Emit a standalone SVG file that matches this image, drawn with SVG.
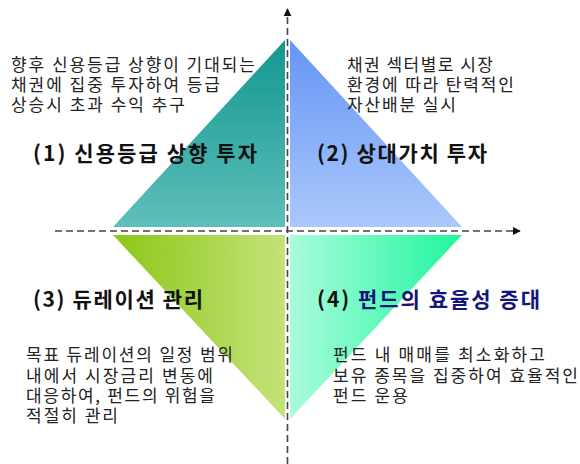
<svg xmlns="http://www.w3.org/2000/svg" width="580" height="464" viewBox="0 0 580 464">
<style>
.desc{font-family:"Noto Sans CJK KR","Liberation Sans",sans-serif;font-size:17px;fill:#222}
.title{font-family:"Noto Sans CJK KR","Liberation Sans",sans-serif;font-size:21px;font-weight:bold;fill:#111}
.axis{stroke:#444;stroke-width:1.6;stroke-dasharray:7 4;fill:none}
</style>
<defs>
<linearGradient id="g1" x1="0" y1="0" x2="0" y2="1"><stop offset="0" stop-color="#12978f"/><stop offset="1" stop-color="#5fbfbb"/></linearGradient>
<linearGradient id="g2" x1="0" y1="0" x2="0" y2="1"><stop offset="0" stop-color="#6595f6"/><stop offset="1" stop-color="#abc8fb"/></linearGradient>
<linearGradient id="g3" x1="0" y1="0" x2="1" y2="0"><stop offset="0" stop-color="#8cc716"/><stop offset="1" stop-color="#c4e27a"/></linearGradient>
<linearGradient id="g4" x1="0" y1="0" x2="1" y2="0"><stop offset="0" stop-color="#aafcdc"/><stop offset="1" stop-color="#1ef69e"/></linearGradient>
<marker id="arr" viewBox="0 0 10 10" refX="9" refY="5" markerWidth="8" markerHeight="8" markerUnits="userSpaceOnUse" orient="auto"><path d="M0,0 L10,5 L0,10 z" fill="#111"/></marker>
</defs>
<g id="q1"><polygon points="285,40 113,227 285,227" fill="url(#g1)"/></g>
<g id="q2"><polygon points="290,40 290,227 462,227" fill="url(#g2)"/></g>
<g id="q3"><polygon points="113,235 285,235 285,419" fill="url(#g3)"/></g>
<g id="q4"><polygon points="290,235 462,235 290,419" fill="url(#g4)"/></g>
<g id="connectors">
<line class="axis" x1="287.5" y1="464" x2="287.5" y2="9" marker-end="url(#arr)"/>
<line class="axis" x1="55" y1="231" x2="520" y2="231" marker-end="url(#arr)"/>
</g>
<g id="t1">
<text class="desc"><tspan x="11" y="71" textLength="244" lengthAdjust="spacing">향후 신용등급 상향이 기대되는</tspan><tspan x="11" y="91" textLength="209" lengthAdjust="spacing">채권에 집중 투자하여 등급</tspan><tspan x="11" y="111" textLength="174" lengthAdjust="spacing">상승시 초과 수익 추구</tspan></text>
<text class="title" x="33" y="161" textLength="224" lengthAdjust="spacing">(1) 신용등급 상향 투자</text>
</g>
<g id="t2">
<text class="desc"><tspan x="347" y="71" textLength="146" lengthAdjust="spacing">채권 섹터별로 시장</tspan><tspan x="347" y="91" textLength="167" lengthAdjust="spacing">환경에 따라 탄력적인</tspan><tspan x="347" y="111" textLength="109" lengthAdjust="spacing">자산배분 실시</tspan></text>
<text class="title" x="317" y="161" textLength="170" lengthAdjust="spacing">(2) 상대가치 투자</text>
</g>
<g id="t3">
<text class="title" x="33" y="307" textLength="170" lengthAdjust="spacing">(3) 듀레이션 관리</text>
<text class="desc"><tspan x="26" y="361" textLength="207" lengthAdjust="spacing">목표 듀레이션의 일정 범위</tspan><tspan x="26" y="382" textLength="187" lengthAdjust="spacing">내에서 시장금리 변동에</tspan><tspan x="26" y="402" textLength="189" lengthAdjust="spacing">대응하여, 펀드의 위험을</tspan><tspan x="26" y="422" textLength="92" lengthAdjust="spacing">적절히 관리</tspan></text>
</g>
<g id="t4">
<text class="title" x="317" y="307" textLength="223" lengthAdjust="spacing">(4) <tspan fill="#14147a">펀드의 효율성 증대</tspan></text>
<text class="desc"><tspan x="333" y="361" textLength="212" lengthAdjust="spacing">펀드 내 매매를 최소화하고</tspan><tspan x="333" y="382" textLength="245" lengthAdjust="spacing">보유 종목을 집중하여 효율적인</tspan><tspan x="333" y="402" textLength="75" lengthAdjust="spacing">펀드 운용</tspan></text>
</g>
</svg>
